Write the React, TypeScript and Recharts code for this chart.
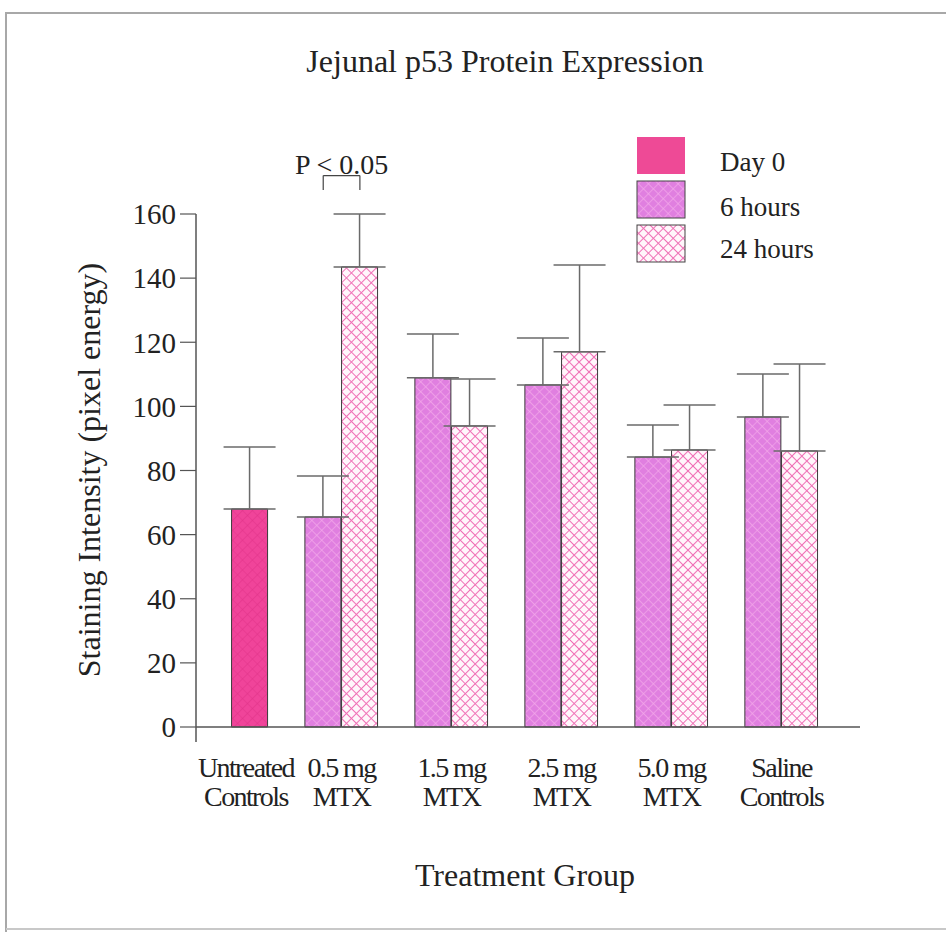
import { BarChart, Bar, Cell, XAxis, YAxis, ErrorBar, ReferenceLine } from 'recharts';

// Treatment groups (two-line tick labels)
const groupLabels: [string, string][] = [
  ['Untreated', 'Controls'],
  ['0.5 mg', 'MTX'],
  ['1.5 mg', 'MTX'],
  ['2.5 mg', 'MTX'],
  ['5.0 mg', 'MTX'],
  ['Saline', 'Controls'],
];

// Mean staining intensity (pixel energy) and upper SD per group
const day0 = [68, null, null, null, null, null];
const day0Err = [19.3, null, null, null, null, null];
const hours6 = [null, 65.5, 108.9, 106.7, 84.2, 96.7];
const hours6Err = [null, 12.8, 13.7, 14.6, 10.0, 13.4];
const hours24 = [null, 143.5, 93.9, 117.0, 86.4, 86.1];
const hours24Err = [null, 16.5, 14.6, 27.1, 14.0, 27.1];

const yTicks = [0, 20, 40, 60, 80, 100, 120, 140, 160];

const SERIF = "'Liberation Serif', 'Times New Roman', serif";
const INK = '#222';
const AXIS = '#555';

const series = [
  { name: 'Day 0', values: day0, errors: day0Err, fill: 'url(#fillDay0)' },
  { name: '6 hours', values: hours6, errors: hours6Err, fill: 'url(#fill6h)' },
  { name: '24 hours', values: hours24, errors: hours24Err, fill: 'url(#fill24h)' },
];

// one slot per bar, with an empty slot between groups
type Row = { slot: number; group: number; value: number; err: [number, number]; fill: string };
const rows: Row[] = [];
const groupCenters: number[] = [];
let slot = 0;
groupLabels.forEach((_, i) => {
  const start = slot;
  series.forEach((s) => {
    const v = s.values[i];
    if (v == null) return;
    rows.push({ slot, group: i, value: v, err: [0, s.errors[i] as number], fill: s.fill });
    slot++;
  });
  groupCenters.push((start + slot - 1) / 2);
  slot++;
});

const sigPair = rows.filter((r) => r.group === 1).map((r) => r.slot);

const GroupTick = ({ x, y, index }: any) => {
  const [l1, l2] = groupLabels[index] ?? ['', ''];
  // first label sits a little left of its bar, as in the printed figure
  const cx = index === 0 ? x - 4 : x;
  return (
    <text
      x={cx}
      y={y + 42}
      textAnchor="middle"
      fill={INK}
      fontSize={28}
      letterSpacing={-1.6}
      fontFamily={SERIF}
    >
      <tspan x={cx}>{l1}</tspan>
      <tspan x={cx} dy={29}>{l2}</tspan>
    </text>
  );
};

function Patterns() {
  return (
    <svg width={0} height={0} style={{ position: 'absolute' }}>
      <defs>
        <pattern id="fillDay0" width={7} height={7} patternUnits="userSpaceOnUse" patternTransform="rotate(45)">
          <rect width={7} height={7} fill="#f0449a" />
          <path d="M0 0H7M0 0V7" stroke="#e2348a" strokeWidth={1.2} />
        </pattern>
        <pattern id="fill6h" width={7} height={7} patternUnits="userSpaceOnUse" patternTransform="rotate(45)">
          <rect width={7} height={7} fill="#e07fe0" />
          <path d="M0 0H7M0 0V7" stroke="#f3a8ea" strokeWidth={1.3} />
        </pattern>
        <pattern id="fill24h" width={7} height={7} patternUnits="userSpaceOnUse" patternTransform="rotate(45)">
          <rect width={7} height={7} fill="#fff6fb" />
          <path d="M0 0H7M0 0V7" stroke="#f070b6" strokeWidth={2} />
        </pattern>
      </defs>
    </svg>
  );
}

export default function App() {
  return (
    <div style={{ position: 'absolute', left: 0, top: 0, width: 946, height: 932, background: '#fff', fontFamily: SERIF }}>
      <Patterns />
      <BarChart
        width={946}
        height={932}
        data={rows}
        margin={{ top: 214, right: 86, bottom: 125, left: 0 }}
      >
        <XAxis
          type="number"
          dataKey="slot"
          domain={[-1.47, 16.64]}
          ticks={groupCenters}
          interval={0}
          tick={<GroupTick />}
          tickLine={false}
          axisLine={{ stroke: AXIS, strokeWidth: 1.5 }}
          height={80}
        />
        <YAxis
          width={196}
          domain={[0, 160]}
          ticks={yTicks}
          interval={0}
          tickSize={16}
          tickMargin={4}
          axisLine={{ stroke: AXIS, strokeWidth: 1.5 }}
          tickLine={{ stroke: AXIS, strokeWidth: 1.2 }}
          tick={{ fill: INK, fontSize: 29, fontFamily: SERIF }}
        />
        <Bar dataKey="value" barSize={36} stroke="#3a3a3a" strokeWidth={1} isAnimationActive={false}>
          {rows.map((r, i) => (
            <Cell key={`bar-${i}`} fill={r.fill} />
          ))}
          <ErrorBar dataKey="err" width={26} stroke="#6a6a6a" strokeWidth={1.5} direction="y" />
        </Bar>
        {/* y axis runs a little below the baseline */}
        <ReferenceLine
          segment={[{ x: -1.47, y: 0 }, { x: -1.47, y: -4.7 }]}
          stroke={AXIS}
          strokeWidth={1.5}
          ifOverflow="visible"
        />
        {/* significance bracket between 6 h and 24 h at 0.5 mg */}
        <ReferenceLine
          segment={[{ x: sigPair[0], y: 172 }, { x: sigPair[1], y: 172 }]}
          stroke="#444"
          strokeWidth={1.2}
          ifOverflow="visible"
          label={{ value: 'P < 0.05', position: 'top', fill: INK, fontSize: 28, fontFamily: SERIF, offset: 2 }}
        />
        <ReferenceLine
          segment={[{ x: sigPair[0], y: 172 }, { x: sigPair[0], y: 167.5 }]}
          stroke="#444"
          strokeWidth={1.2}
          ifOverflow="visible"
        />
        <ReferenceLine
          segment={[{ x: sigPair[1], y: 172 }, { x: sigPair[1], y: 167.5 }]}
          stroke="#444"
          strokeWidth={1.2}
          ifOverflow="visible"
        />
      </BarChart>

      <svg
        width={946}
        height={932}
        style={{ position: 'absolute', left: 0, top: 0, pointerEvents: 'none' }}
      >
        {/* frame */}
        <path d="M6 932V13H946" fill="none" stroke="#a8a8a8" strokeWidth={2} />
        <path d="M6 929H946" fill="none" stroke="#c8c8c8" strokeWidth={2} />

        <text x={505} y={72} textAnchor="middle" fontSize={32} fill={INK} fontFamily={SERIF}>
          Jejunal p53 Protein Expression
        </text>
        <text
          x={0}
          y={0}
          transform="translate(100 470) rotate(-90)"
          textAnchor="middle"
          fontSize={32}
          fill={INK}
          fontFamily={SERIF}
        >
          Staining Intensity (pixel energy)
        </text>
        <text x={525} y={886} textAnchor="middle" fontSize={32} fill={INK} fontFamily={SERIF}>
          Treatment Group
        </text>

        {/* legend */}
        <rect x={637} y={137} width={48} height={37} fill="#ee4a96" />
        <rect x={637} y={181} width={48} height={37} fill="url(#fill6h)" stroke="#444" strokeWidth={1} />
        <rect x={637} y={225} width={48} height={37} fill="url(#fill24h)" stroke="#444" strokeWidth={1} />
        <text x={720} y={171} fontSize={27} fill={INK} fontFamily={SERIF}>Day 0</text>
        <text x={720} y={216} fontSize={27} fill={INK} fontFamily={SERIF}>6 hours</text>
        <text x={720} y={258} fontSize={27} fill={INK} fontFamily={SERIF}>24 hours</text>
      </svg>
    </div>
  );
}
